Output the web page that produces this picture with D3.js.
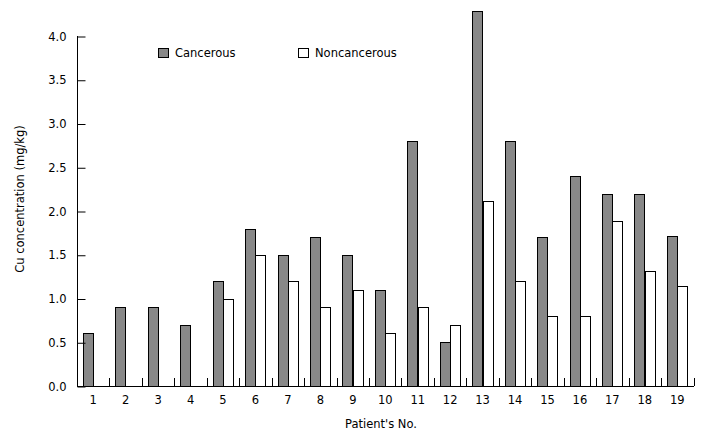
<!DOCTYPE html>
<html>
  <head>
    <title>Cu concentration</title>
    <script src="https://cdn.jsdelivr.net/npm/d3@7"></script>
    <style>
      body { margin: 0; background: #fff; }
      svg { display: block; font-family: "DejaVu Sans", Verdana, sans-serif; }
      .bar { stroke: #000; stroke-width: 1; }
      .axis path, .axis line { stroke: #000; }
    </style>
  </head>
  <body>
    <svg id="chart" width="708" height="436"></svg>
  </body>
  <script>
    const patients = ["1","2","3","4","5","6","7","8","9","10","11","12","13","14","15","16","17","18","19"];
    const seriesNames = ["Cancerous", "Noncancerous"];
    const cancerous =    [0.6, 0.9, 0.9, 0.7, 1.2, 1.8, 1.5, 1.7, 1.5, 1.1, 2.8, 0.5, 4.29, 2.8, 1.7, 2.4, 2.2, 2.2, 1.71];
    const noncancerous = [null, null, null, null, 1.0, 1.5, 1.2, 0.9, 1.1, 0.6, 0.9, 0.7, 2.11, 1.2, 0.8, 0.8, 1.89, 1.31, 1.14];
    const yTicks = [0, 0.5, 1.0, 1.5, 2.0, 2.5, 3.0, 3.5, 4.0];
    const colors = { Cancerous: "#888888", Noncancerous: "#ffffff" };

    const svg = d3.select("#chart");
    const mLeft = 77, mRight = 693.5, mTop = 36, mBottom = 386;

    const x = d3.scaleBand().domain(patients).range([mLeft, mRight]).padding(0);
    const inner = d3.scaleBand().domain(seriesNames).range([0, x.bandwidth()]).paddingInner(0).paddingOuter(0.57);
    const y = d3.scaleLinear().domain([0, 4.0]).range([mBottom, mTop]);

    const rows = patients.map((p, i) => ({ p, Cancerous: cancerous[i], Noncancerous: noncancerous[i] }));
    const barW = Math.round(inner.bandwidth());

    // bars (pixel-snapped, bottoms sit on the x axis)
    svg.append("g").selectAll("g")
      .data(rows).join("g")
      .selectAll("rect")
      .data(d => seriesNames.filter(s => d[s] != null).map(s => ({ p: d.p, s, v: d[s] })))
      .join("rect")
      .attr("class", "bar")
      .attr("x", d => Math.round(x(d.p) + inner(d.s)) + 0.5)
      .attr("y", d => Math.round(y(d.v)) + 0.5)
      .attr("width", barW)
      .attr("height", d => mBottom - Math.round(y(d.v)))
      .attr("fill", d => colors[d.s]);

    // y axis, ticks pointing inward
    const yAxis = svg.append("g").attr("class", "axis")
      .attr("transform", `translate(${mLeft + 0.5},0.5)`)
      .call(d3.axisRight(y).tickValues(yTicks).tickFormat(d3.format(".1f")).tickSize(8).tickPadding(-19))
      .call(g => g.select(".domain").attr("d", `M0,${mTop - 0.5}V${mBottom - 0.5}`));
    yAxis.selectAll("text").attr("text-anchor", "end").attr("font-size", 11.5).attr("fill", "#000")
      .attr("font-family", "DejaVu Sans");

    // x axis: line plus boundary ticks pointing up
    const xg = svg.append("g").attr("class", "axis");
    xg.append("line")
      .attr("x1", mLeft).attr("x2", mRight + 0.5)
      .attr("y1", mBottom + 0.5).attr("y2", mBottom + 0.5);
    xg.selectAll("line.tick")
      .data(patients.slice(1).concat(["end"]))
      .join("line")
      .attr("class", "tick")
      .attr("x1", (d, i) => Math.round(x.step() * (i + 1) + mLeft) + 0.5)
      .attr("x2", (d, i) => Math.round(x.step() * (i + 1) + mLeft) + 0.5)
      .attr("y1", mBottom).attr("y2", mBottom - 8);
    xg.selectAll("text")
      .data(patients).join("text")
      .attr("x", d => x(d) + x.bandwidth() / 2)
      .attr("y", 404)
      .attr("text-anchor", "middle")
      .attr("font-size", 11.5)
      .text(d => d);

    // axis titles
    svg.append("text")
      .attr("x", 381).attr("y", 428)
      .attr("text-anchor", "middle").attr("font-size", 11.5)
      .text("Patient's No.");
    svg.append("text")
      .attr("transform", "translate(24,199) rotate(-90)")
      .attr("text-anchor", "middle").attr("font-size", 11.5)
      .text("Cu concentration (mg/kg)");

    // legend
    const legendPos = [{ s: "Cancerous", x: 158 }, { s: "Noncancerous", x: 298 }];
    const lg = svg.append("g").selectAll("g").data(legendPos).join("g")
      .attr("transform", d => `translate(${d.x},48)`);
    lg.append("rect")
      .attr("x", 0.5).attr("y", 0.5).attr("width", 10).attr("height", 9)
      .attr("fill", d => colors[d.s]).attr("stroke", "#000");
    lg.append("text")
      .attr("x", 17).attr("y", 9)
      .attr("font-size", 11.5)
      .text(d => d.s);
  </script>
</html>
